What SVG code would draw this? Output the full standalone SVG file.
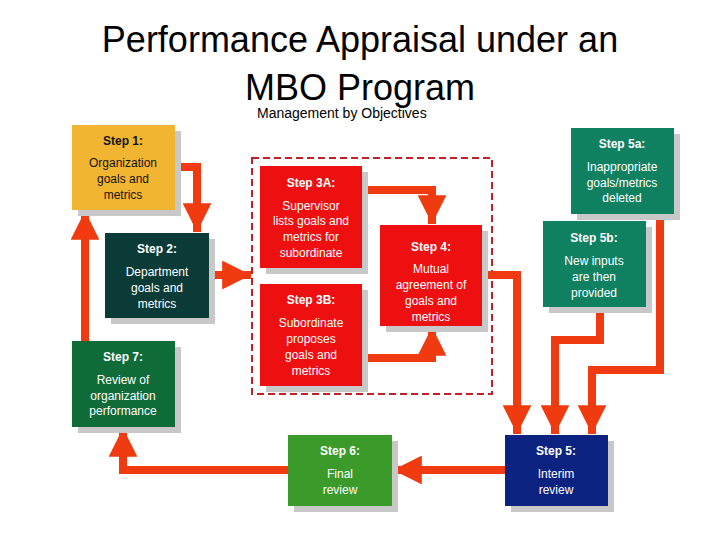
<svg xmlns="http://www.w3.org/2000/svg" width="720" height="540" viewBox="0 0 720 540">
<defs>
<marker id="ah" viewBox="0 0 10 10" refX="10" refY="5" markerWidth="3.6" markerHeight="3.6" orient="auto" markerUnits="strokeWidth"><path d="M0,0L10,5L0,10z" fill="#f03a10"/></marker>
</defs>
<style>
.t{font-family:"Liberation Sans",Arial,sans-serif;fill:#fff;text-anchor:middle;font-size:12px}
.h{font-weight:bold}
.d{fill:#111}
.sh{fill:#c8c8c8}
.c{fill:none;stroke:#f03a10;stroke-width:8;marker-end:url(#ah)}
</style>
<rect width="720" height="540" fill="#fff"/>
<text x="360" y="52" font-family="Liberation Sans,Arial,sans-serif" font-size="36" text-anchor="middle">Performance Appraisal under an</text>
<text x="360" y="100" font-family="Liberation Sans,Arial,sans-serif" font-size="36" text-anchor="middle">MBO Program</text>
<text x="257" y="118" font-family="Liberation Sans,Arial,sans-serif" font-size="14">Management by Objectives</text>
<rect x="252" y="158" width="240" height="236" fill="none" stroke="#c0202a" stroke-width="2" stroke-dasharray="7,4"/>
<g id="connectors">
<path class="c" d="M175,167H197V232"/>
<path class="c" d="M209,275H251"/>
<path class="c" d="M362,190H432V224"/>
<path class="c" d="M362,358H432V327"/>
<path class="c" d="M482,275H517V434"/>
<path class="c" d="M600,307V340H555V434"/>
<path class="c" d="M660,214V370H592V434"/>
<path class="c" d="M505,470H393"/>
<path class="c" d="M288,470H123V428"/>
<path class="c" d="M85,341V211"/>
</g>
<g id="step1"><rect class="sh" x="78" y="131" width="103" height="85"/><rect x="72" y="125" width="103" height="85" fill="#f2b531"/>
<text class="t d h" x="123" y="145">Step 1:</text><text class="t d" x="123" y="167">Organization</text><text class="t d" x="123" y="183">goals and</text><text class="t d" x="123" y="199">metrics</text></g>
<g id="step2"><rect class="sh" x="111" y="239" width="104" height="85"/><rect x="105" y="233" width="104" height="85" fill="#0b3b36"/>
<text class="t h" x="157" y="253">Step 2:</text><text class="t" x="157" y="276">Department</text><text class="t" x="157" y="292">goals and</text><text class="t" x="157" y="308">metrics</text></g>
<g id="step3a"><rect class="sh" x="266" y="172" width="102" height="102"/><rect x="260" y="166" width="102" height="102" fill="#ee1010"/>
<text class="t h" x="311" y="187">Step 3A:</text><text class="t" x="311" y="210">Supervisor</text><text class="t" x="311" y="225">lists goals and</text><text class="t" x="311" y="241">metrics for</text><text class="t" x="311" y="257">subordinate</text></g>
<g id="step3b"><rect class="sh" x="266" y="290" width="102" height="102"/><rect x="260" y="284" width="102" height="102" fill="#ee1010"/>
<text class="t h" x="311" y="304">Step 3B:</text><text class="t" x="311" y="327">Subordinate</text><text class="t" x="311" y="343">proposes</text><text class="t" x="311" y="359">goals and</text><text class="t" x="311" y="375">metrics</text></g>
<g id="step4"><rect class="sh" x="386" y="231" width="102" height="101"/><rect x="380" y="225" width="102" height="101" fill="#ee1010"/>
<text class="t h" x="431" y="251">Step 4:</text><text class="t" x="431" y="273">Mutual</text><text class="t" x="431" y="289">agreement of</text><text class="t" x="431" y="305">goals and</text><text class="t" x="431" y="321">metrics</text></g>
<g id="step5a"><rect class="sh" x="577" y="134" width="103" height="86"/><rect x="571" y="128" width="103" height="86" fill="#0f8060"/>
<text class="t h" x="622" y="148">Step 5a:</text><text class="t" x="622" y="171">Inappropriate</text><text class="t" x="622" y="187">goals/metrics</text><text class="t" x="622" y="202">deleted</text></g>
<g id="step5b"><rect class="sh" x="549" y="227" width="103" height="86"/><rect x="543" y="221" width="103" height="86" fill="#0f8060"/>
<text class="t h" x="594" y="242">Step 5b:</text><text class="t" x="594" y="265">New inputs</text><text class="t" x="594" y="281">are then</text><text class="t" x="594" y="297">provided</text></g>
<g id="step7"><rect class="sh" x="78" y="347" width="103" height="86"/><rect x="72" y="341" width="103" height="86" fill="#0f6b38"/>
<text class="t h" x="123" y="361">Step 7:</text><text class="t" x="123" y="384">Review of</text><text class="t" x="123" y="400">organization</text><text class="t" x="123" y="415">performance</text></g>
<g id="step6"><rect class="sh" x="294" y="441" width="104" height="71"/><rect x="288" y="435" width="104" height="71" fill="#3a9a2a"/>
<text class="t h" x="340" y="455">Step 6:</text><text class="t" x="340" y="478">Final</text><text class="t" x="340" y="494">review</text></g>
<g id="step5"><rect class="sh" x="511" y="441" width="103" height="71"/><rect x="505" y="435" width="103" height="71" fill="#0c2280"/>
<text class="t h" x="556" y="455">Step 5:</text><text class="t" x="556" y="478">Interim</text><text class="t" x="556" y="494">review</text></g>
</svg>
